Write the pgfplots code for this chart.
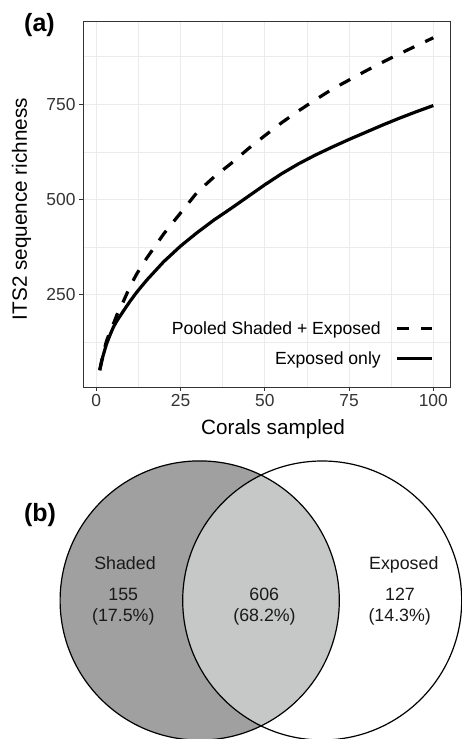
\documentclass[border=0pt]{standalone}
\usepackage{pgfplots}
\usepackage{pgfplotstable}
\pgfplotsset{compat=1.18}
\usepackage{fontspec}
\setmainfont{Liberation Sans}
\definecolor{gridc}{HTML}{EBEBEB}
\definecolor{framec}{HTML}{333333}
\definecolor{tickc}{HTML}{333333}
\definecolor{shadedc}{HTML}{A0A0A0}
\definecolor{overlapc}{HTML}{C6C7C7}

\pgfplotstableread{
x pooled exposed
1 52 52
2 95 90
3 128 120
4 152 143
5 172 164
6 195 180
8 232 207
10 272 233
12 305 257
15 347 289
20 410 337
25 465 378
30 520 414
35 560 447
40 595 477
45 633 508
50 668 539
55 702 568
60 733 594
65 762 617
70 790 638
75 814 658
80 838 677
85 861 696
90 883 714
95 904 731
100 925 747
}\richness

\begin{document}
\begin{tikzpicture}
\useasboundingbox (0,0) rectangle (462bp,739bp);
\begin{axis}[
  at={(83bp,352bp)}, anchor=south west,
  scale only axis, width=367bp, height=366bp,
  xmin=-3.95, xmax=104.95, ymin=8, ymax=969,
  xtick={0,25,50,75,100}, ytick={250,500,750},
  minor xtick={12.5,37.5,62.5,87.5}, minor ytick={125,375,625,875},
  grid=both,
  major grid style={draw=gridc, line width=1.1bp},
  minor grid style={draw=gridc, line width=0.6bp},
  tick align=outside, major tick length=4bp, minor tick length=0pt,
  tick style={draw=tickc, line width=0.9bp},
  axis line style={draw=framec, line width=0.9bp},
  xtick pos=lower, ytick pos=left,
  /pgf/number format/assume math mode=true,
  tick label style={font=\fontsize{17.4bp}{20bp}\selectfont, text=tickc},
  xlabel={Corals sampled}, ylabel={ITS2 sequence richness},
  label style={font=\fontsize{20.7bp}{24bp}\selectfont},
  xlabel style={at={(axis description cs:0.518,-0.131)}, anchor=base},
  ylabel style={at={(axis description cs:-0.1526,0.486)}, anchor=base},
  legend plot pos=right, legend cell align=right,
  legend style={at={(rel axis cs:0.965,0.046)}, anchor=south east, draw=none, fill=none,
    font=\fontsize{17.6bp}{20bp}\selectfont, row sep=12bp, column sep=13bp},
  legend image code/.code={\draw[#1] (0bp,0bp) -- (35bp,0bp);},
]
\addplot[black, line width=3.2bp, line join=round, dash pattern=on 12bp off 12bp] table[x=x,y=pooled]{\richness};
\addlegendentry{Pooled Shaded + Exposed}
\addplot[black, line width=3.2bp, line join=round] table[x=x,y=exposed]{\richness};
\addlegendentry{Exposed only}
\end{axis}
\node[font=\bfseries\fontsize{25bp}{30bp}\selectfont, anchor=base] at (39.5bp,707.3bp) {(a)};
\node[font=\bfseries\fontsize{25bp}{30bp}\selectfont, anchor=base] at (40bp,217.5bp) {(b)};

\begin{axis}[
  at={(0bp,0bp)}, anchor=south west,
  scale only axis, width=462bp, height=270bp,
  xmin=0, xmax=462, ymin=0, ymax=270,
  hide axis, clip=false,
]
\fill[shadedc] (axis cs:199.7,138.5) circle[radius=139.6];
\begin{scope}
\clip (axis cs:199.7,138.5) circle[radius=139.6];
\fill[overlapc] (axis cs:322.2,138.5) circle[radius=139.5];
\end{scope}
\draw[black, line width=1.2bp] (axis cs:199.7,138.5) circle[radius=139.6];
\draw[black, line width=1.2bp] (axis cs:322.2,138.5) circle[radius=139.5];
\begin{scope}[every node/.style={anchor=base, font=\fontsize{17.8bp}{20bp}\selectfont, text=black!90}]
\node at (axis cs:125,169.7) {Shaded};
\node at (axis cs:123.3,139) {155};
\node at (axis cs:123.3,117.7) {(17.5\%)};
\node at (axis cs:264.2,139) {606};
\node at (axis cs:264.5,117.7) {(68.2\%)};
\node at (axis cs:403.8,169.7) {Exposed};
\node at (axis cs:400,139) {127};
\node at (axis cs:399.7,117.7) {(14.3\%)};
\end{scope}
\end{axis}
\end{tikzpicture}
\end{document}
